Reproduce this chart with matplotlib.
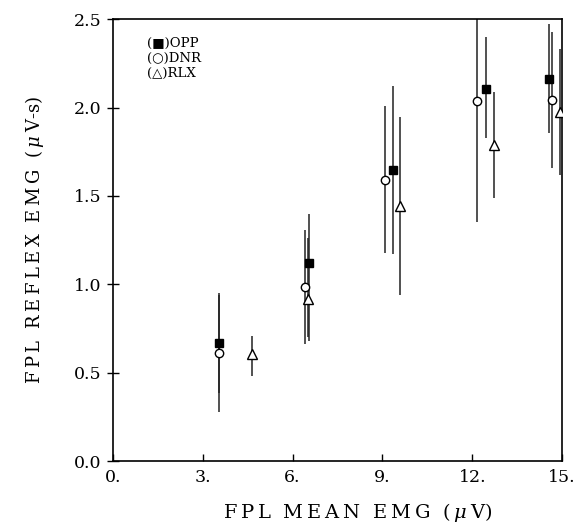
import matplotlib
matplotlib.use("Agg")
import matplotlib.pyplot as plt
from matplotlib.ticker import FixedLocator, FixedFormatter

# Data
opp_x = [3.53, 6.54, 9.34, 12.45, 14.55]
opp_y = [0.666, 1.122, 1.647, 2.107, 2.160]
opp_lo = [0.383, 0.680, 1.170, 1.826, 1.855]
opp_hi = [0.952, 1.400, 2.120, 2.400, 2.473]

dnr_x = [3.55, 6.40, 9.10, 12.16, 14.66]
dnr_y = [0.609, 0.983, 1.590, 2.036, 2.043]
dnr_lo = [0.279, 0.662, 1.177, 1.354, 1.657]
dnr_hi = [0.940, 1.307, 2.010, 2.720, 2.430]

rlx_x = [4.63, 6.52, 9.57, 12.72, 14.93]
rlx_y = [0.604, 0.917, 1.443, 1.790, 1.977]
rlx_lo = [0.480, 0.700, 0.940, 1.487, 1.618]
rlx_hi = [0.707, 1.260, 1.945, 2.090, 2.330]

x_ticks = [0, 3, 6, 9, 12, 15]
x_ticklabels = ["0.", "3.", "6.", "9.", "12.", "15."]
y_ticks = [0.0, 0.5, 1.0, 1.5, 2.0, 2.5]
y_ticklabels = ["0.0", "0.5", "1.0", "1.5", "2.0", "2.5"]

plt.rcParams['font.family'] = ['DejaVu Serif', 'DejaVu Sans']
plt.rcParams['mathtext.fontset'] = 'dejavuserif'

fig = plt.figure(figsize=(5.88, 5.29), dpi=100)
ax = fig.add_axes([0.192, 0.1285, 0.764, 0.835])

def series(xs, ys, lo, hi, marker, fc, size):
    err = [[y - l for y, l in zip(ys, lo)], [h - y for y, h in zip(ys, hi)]]
    ax.errorbar(xs, ys, yerr=err, fmt='none', ecolor='#222222', elinewidth=1.1,
                capsize=0, zorder=2)
    ax.plot(xs, ys, linestyle='none', marker=marker, markersize=size,
            markerfacecolor=fc, markeredgecolor='black', markeredgewidth=1.0,
            zorder=3)

series(opp_x, opp_y, opp_lo, opp_hi, 's', 'black', 6)
series(dnr_x, dnr_y, dnr_lo, dnr_hi, 'o', 'white', 6)
series(rlx_x, rlx_y, rlx_lo, rlx_hi, '^', 'white', 7)

ax.set_xlim(0, 15)
ax.set_ylim(0, 2.5)
ax.xaxis.set_major_locator(FixedLocator(x_ticks))
ax.xaxis.set_major_formatter(FixedFormatter(x_ticklabels))
ax.yaxis.set_major_locator(FixedLocator(y_ticks))
ax.yaxis.set_major_formatter(FixedFormatter(y_ticklabels))
ax.tick_params(axis='x', direction='in', length=5, width=1, labelsize=12.5, pad=6)
ax.tick_params(axis='y', direction='inout', length=8, width=1, labelsize=12.5, pad=4)
for s in ax.spines.values():
    s.set_linewidth(1.2)

TS = "\u2009"
def spaced(words):
    return "  ".join(TS.join(w) for w in words)

xl = spaced(["FPL", "MEAN", "EMG"]) + "  (" + TS + "$\\mu$" + TS + "V)"
yl = spaced(["FPL", "REFLEX", "EMG"]) + "  (" + TS + "$\\mu$" + TS + "V-s)"
ax.set_xlabel(xl, fontsize=14, labelpad=8)
ax.xaxis.set_label_coords(0.545, -0.09)
ax.set_ylabel(yl, fontsize=13, labelpad=20)

# Legend as text block
leg_items = [("\u25A0", "OPP"), ("\u25CB", "DNR"), ("\u25B3", "RLX")]
for i, (sym, name) in enumerate(leg_items):
    ax.text(0.075, 0.946 - i * 0.034, "(" + sym + ")" + name,
            transform=ax.transAxes, fontsize=9.5, va='center', ha='left')

fig.savefig("out.png", dpi=100)
